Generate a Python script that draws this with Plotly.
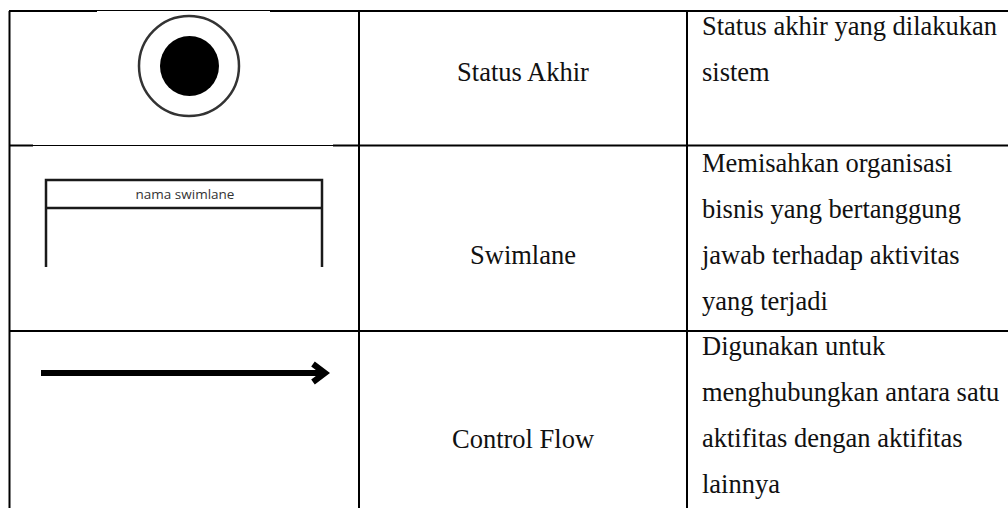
import plotly.graph_objects as go

row_names = ["Status Akhir", "Swimlane", "Control Flow"]
row_descriptions = [
    ["Status akhir yang dilakukan", "sistem"],
    ["Memisahkan organisasi", "bisnis yang bertanggung", "jawab terhadap aktivitas", "yang terjadi"],
    ["Digunakan untuk", "menghubungkan antara satu", "aktifitas dengan aktifitas", "lainnya"],
]
swimlane_label = "nama swimlane"

W, H = 1008, 508
COL_X = [9.5, 359, 687]
ROW_Y = [11, 145.5, 331]
NAME_Y = [74.5, 257, 441]
DESC_X = 702
DESC_Y0 = [28.5, 165, 348]
LINE_STEP = 46
FONT = "Liberation Serif"
FS = 26.5

fig = go.Figure()


def seg(xs, ys, width, color="#000000"):
    fig.add_trace(go.Scatter(x=xs, y=ys, mode="lines", hoverinfo="skip",
                             line=dict(color=color, width=width, shape="linear")))


# table frame
for x in COL_X:
    seg([x, x], [ROW_Y[0], H], 2)
seg([9, 97], [ROW_Y[0]] * 2, 2)
seg([97, 270], [ROW_Y[0] - 0.5] * 2, 1)
seg([270, W], [ROW_Y[0]] * 2, 2)
seg([9, 33], [ROW_Y[1]] * 2, 2)
seg([33, 333], [ROW_Y[1]] * 2, 1)
seg([333, W], [ROW_Y[1]] * 2, 2)
seg([9, W], [ROW_Y[2]] * 2, 2)

# swimlane icon
seg([46, 46, 322, 322], [267, 180, 180, 267], 2.5, "#1a1a1a")
seg([46, 322], [208, 208], 2.5, "#1a1a1a")

# arrow icon
seg([41, 324], [373, 373], 6)
seg([313, 325, 313], [364, 373, 382], 6)

# text cells
fig.add_trace(go.Scatter(
    x=[(COL_X[1] + COL_X[2]) / 2] * 3, y=NAME_Y, text=row_names, mode="text",
    textposition="middle center", hoverinfo="skip",
    textfont=dict(family=FONT, size=FS, color="#111111")))
for lines, y0 in zip(row_descriptions, DESC_Y0):
    fig.add_trace(go.Scatter(
        x=[DESC_X] * len(lines), y=[y0 + i * LINE_STEP for i in range(len(lines))],
        text=lines, mode="text", textposition="middle right", hoverinfo="skip",
        textfont=dict(family=FONT, size=FS, color="#111111")))
fig.add_trace(go.Scatter(
    x=[185], y=[196], text=[swimlane_label], mode="text", textposition="middle center",
    hoverinfo="skip", textfont=dict(family="Open Sans", size=13.5, color="#333333")))

# end-state icon
shapes = [
    dict(type="circle", xref="x", yref="y", x0=139, x1=239, y0=16, y1=116,
         line=dict(color="#333333", width=2.5), fillcolor="#ffffff", layer="below"),
    dict(type="circle", xref="x", yref="y", x0=160, x1=219, y0=36, y1=96,
         line=dict(color="#000000", width=0), fillcolor="#000000", layer="below"),
]

fig.update_layout(
    width=W, height=H, margin=dict(l=0, r=0, t=0, b=0), showlegend=False,
    paper_bgcolor="#ffffff", plot_bgcolor="#ffffff", shapes=shapes,
    xaxis=dict(range=[0, W], visible=False, fixedrange=True),
    yaxis=dict(range=[H, 0], visible=False, fixedrange=True),
)
fig.write_html("out.html", config=dict(displayModeBar=False),
               post_script="document.body.style.margin='0';document.body.style.overflow='hidden';")
